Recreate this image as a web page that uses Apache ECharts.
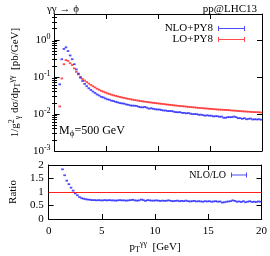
<!DOCTYPE html>
<html><head><meta charset="utf-8">
<script src="https://cdn.jsdelivr.net/npm/echarts@6/dist/echarts.min.js"></script>
<style>html,body{margin:0;padding:0;background:#fff}#c{width:270px;height:256px}</style>
</head><body><div id="c"></div>
<script>
// bin centres (GeV)
const PT = [0.1,0.3,0.5,0.7,0.9,1.1,1.3,1.5,1.7,1.9,2.1,2.3,2.5,2.7,2.9,3.1,3.3,3.5,3.7,3.9,
4.1,4.3,4.5,4.7,4.9,5.1,5.3,5.5,5.7,5.9,6.1,6.3,6.5,6.7,6.9,7.1,7.3,7.5,7.7,7.9,
8.1,8.3,8.5,8.7,8.9,9.1,9.3,9.5,9.7,9.9,10.1,10.3,10.5,10.7,10.9,11.1,11.3,11.5,11.7,11.9,
12.1,12.3,12.5,12.7,12.9,13.1,13.3,13.5,13.7,13.9,14.1,14.3,14.5,14.7,14.9,15.1,15.3,15.5,15.7,15.9,
16.1,16.3,16.5,16.7,16.9,17.1,17.3,17.5,17.7,17.9,18.1,18.3,18.5,18.7,18.9,19.1,19.3,19.5,19.7,19.9];
// LO+PY8 [pb/GeV]
const LO = [null,null,0.016,0.091,0.22,0.285,0.27,0.235,0.21,0.17,0.137,0.117,0.100,0.088,0.080,0.073,0.066,0.061,0.056,0.052,
0.048,0.045,0.042,0.040,0.038,0.036,0.0345,0.033,0.0318,0.0307,0.0297,0.0288,0.0279,0.0271,0.0263,0.0256,0.0250,0.0244,0.0238,0.0233,
0.0228,0.0223,0.0219,0.0215,0.0211,0.0207,0.0204,0.0200,0.0197,0.0194,0.0191,0.0188,0.0185,0.0182,0.0179,0.0176,0.0174,0.0171,0.0169,0.0166,
0.0164,0.0162,0.0160,0.0158,0.0156,0.0154,0.0152,0.0150,0.0148,0.0146,0.0145,0.0143,0.0141,0.0140,0.0138,0.0137,0.0135,0.0134,0.0132,0.0131,
0.0130,0.0129,0.0128,0.0128,0.0126,0.0124,0.0123,0.0122,0.0120,0.0119,0.0118,0.0117,0.0116,0.0115,0.0114,0.0113,0.0112,0.0112,0.0111,0.0110];
// NLO+PY8 [pb/GeV]
const NLO = [null,null,0.063,0.30,0.57,0.63,0.50,0.38,0.30,0.22,0.159,0.123,0.095,0.0774,0.0648,0.0562,0.0495,0.0445,0.0403,0.0369,
0.0336,0.0315,0.0290,0.0280,0.0262,0.0248,0.0242,0.0228,0.0223,0.0212,0.0205,0.0196,0.0193,0.0190,0.0181,0.0177,0.0170,0.0168,0.0167,0.0165,
0.0157,0.0152,0.0151,0.0155,0.0148,0.0139,0.0143,0.0138,0.0134,0.0132,0.0132,0.0128,0.0124,0.0124,0.0120,0.0120,0.0120,0.0115,0.0112,0.0111,
0.0112,0.0107,0.0107,0.0104,0.0106,0.0102,0.0099,0.0099,0.0099,0.0095,0.0096,0.0093,0.0090,0.0092,0.0090,0.0090,0.0086,0.0087,0.0087,0.0084,
0.0085,0.0079,0.0079,0.0082,0.0082,0.0082,0.0085,0.0082,0.0077,0.0077,0.0074,0.0077,0.0072,0.0074,0.0075,0.0071,0.0072,0.0071,0.0072,0.0070];
// NLO/LO ratio
const RATIO = [null,null,3.9,3.3,2.6,2.2,1.84,1.62,1.42,1.29,1.16,1.05,0.95,0.88,0.81,0.77,0.75,0.73,0.72,0.71,
0.70,0.70,0.69,0.70,0.69,0.69,0.70,0.69,0.70,0.69,0.69,0.68,0.69,0.70,0.69,0.69,0.68,0.69,0.70,0.71,
0.69,0.68,0.69,0.72,0.70,0.67,0.70,0.69,0.68,0.68,0.69,0.68,0.67,0.68,0.67,0.68,0.69,0.67,0.66,0.67,
0.68,0.66,0.67,0.66,0.68,0.66,0.65,0.66,0.67,0.65,0.66,0.65,0.64,0.66,0.65,0.66,0.64,0.65,0.66,0.64,
0.65,0.61,0.62,0.64,0.65,0.66,0.69,0.67,0.64,0.65,0.63,0.66,0.62,0.64,0.66,0.63,0.64,0.63,0.65,0.64];
// tick values
const X_TICKS = [0,5,10,15,20];
const LOG_MAJOR = [0.001,0.01,0.1,1];
const LOG_MINOR = [0.002,0.003,0.004,0.005,0.006,0.007,0.008,0.009,0.02,0.03,0.04,0.05,0.06,0.07,0.08,0.09,
0.2,0.3,0.4,0.5,0.6,0.7,0.8,0.9,2,3,4];
const RATIO_TICKS = [0,0.5,1,1.5,2];

const FONT = '"Liberation Serif","DejaVu Serif",serif';
const BLUE = '#1f1fff', RED = '#ff1f1f';
const pairs = (ys) => PT.map((x,i)=>[x, ys[i]]).filter(d=>d[1]!=null);
const errIcon = 'path://M0,0h1v5h-1z M0,2h27v1h-27z M26,0h1v5h-1z';
const line = {show:true, onZero:false, lineStyle:{color:'#000', width:1}};
const rich = {
  b:{fontFamily:FONT,fontSize:11,color:'#000',fontWeight:'normal'},
  sup:{fontFamily:FONT,fontSize:8,color:'#000',fontWeight:'normal',verticalAlign:'top',padding:[0,0,6,0]},
  sub:{fontFamily:FONT,fontSize:8,color:'#000',fontWeight:'normal',verticalAlign:'bottom',padding:[5,0,0,0]}
};
function xAx(grid, pos, labels, name){
  return {type:'value', gridIndex:grid, position:pos, min:0, max:20, interval:5,
    axisLine:line, splitLine:{show:false},
    axisTick:{inside:true, length:5, customValues:X_TICKS, lineStyle:{color:'#000'}},
    axisLabel:{show:labels, customValues:X_TICKS, color:'#000', fontFamily:FONT, fontSize:11, margin:7},
    name: name||'', nameLocation:'middle', nameGap:21,
    nameTextStyle:{color:'#000', fontFamily:FONT, fontSize:11, rich:rich}};
}
function logAx(pos, major, labels){
  return {type:'log', gridIndex:0, position:pos, min:0.001, max:5, logBase:10,
    axisLine: major ? line : {show:false},
    splitLine:{show:false},
    axisTick:{inside:true, length: major?5:2.5, customValues: major?LOG_MAJOR:LOG_MINOR, lineStyle:{color:'#000'}},
    axisLabel:{show:labels, customValues:LOG_MAJOR, margin:4,
      formatter:(v)=>'{b|10}{sup|'+Math.round(Math.log10(v))+'}', rich:rich},
    name: labels ? '{b|1/g}{sup|2}{sub|γ}{b| dσ/dp}{sub|T}{sup|γγ}{b|  [pb/GeV]}' : '',
    nameLocation:'middle', nameGap:25,
    nameTextStyle:{color:'#000', fontFamily:FONT, fontSize:11, rich:rich}};
}
function ratioAx(pos, labels){
  return {type:'value', gridIndex:1, position:pos, min:0, max:2, interval:0.5,
    axisLine:line, splitLine:{show:false},
    axisTick:{inside:true, length:5, customValues:RATIO_TICKS, lineStyle:{color:'#000'}},
    axisLabel:{show:labels, customValues:RATIO_TICKS, color:'#000', fontFamily:FONT, fontSize:11, margin:5},
    name: labels?'Ratio':'', nameLocation:'middle', nameGap:22,
    nameTextStyle:{color:'#000', fontFamily:FONT, fontSize:11}};
}
const chart = echarts.init(document.getElementById('c'), null, {renderer:'canvas'});
chart.setOption({
  animation:false,
  backgroundColor:'#fff',
  title:[
    {text:'γγ → ϕ', left:42, top:-1, textStyle:{fontFamily:FONT, fontSize:11, fontWeight:'normal', color:'#000'}},
    {text:'pp@LHC13', right:8, top:-1, textStyle:{fontFamily:FONT, fontSize:11, fontWeight:'normal', color:'#000'}},
    {text:'{m|M}{s|ϕ}{m|=500 GeV}', left:54, top:119,
      textStyle:{fontWeight:'normal', rich:{m:{fontFamily:FONT,fontSize:12,color:'#000',fontWeight:'normal'},
        s:{fontFamily:FONT,fontSize:9,color:'#000',fontWeight:'normal',verticalAlign:'bottom',padding:[5,0,0,0]}}}}
  ],
  legend:[
    {orient:'vertical', right:20, top:18, align:'right', itemWidth:27, itemHeight:5, itemGap:0,
     data:[{name:'NLO+PY8', icon:errIcon},{name:'LO+PY8', icon:errIcon}],
     textStyle:{fontFamily:FONT, fontSize:11, color:'#000', lineHeight:11, padding:[0,0,0,0]}, selectedMode:false},
    {orient:'vertical', right:18, top:165, align:'right', itemWidth:16, itemHeight:5,
     data:[{name:'NLO/LO', icon:'path://M0,0h1v5h-1z M0,2h16v1h-16z M15,0h1v5h-1z'}],
     textStyle:{fontFamily:FONT, fontSize:10, color:'#000'}, selectedMode:false}
  ],
  grid:[
    {left:42, top:14, width:220, height:137},
    {left:42, top:165, width:220, height:54}
  ],
  xAxis:[
    xAx(0,'bottom',false), xAx(0,'top',false),
    xAx(1,'bottom',true,'{b|p}{sub|T}{sup|γγ}{b|  [GeV]}'), xAx(1,'top',false)
  ],
  yAxis:[
    logAx('left',true,true), logAx('left',false,false),
    logAx('right',true,false), logAx('right',false,false),
    ratioAx('left',true), ratioAx('right',false)
  ],
  series:[
    {name:'LO+PY8', type:'scatter', xAxisIndex:0, yAxisIndex:0, symbol:'rect', symbolSize:[2.6,1.8],
     itemStyle:{color:RED}, data:pairs(LO), clip:true},
    {name:'NLO+PY8', type:'scatter', xAxisIndex:0, yAxisIndex:0, symbol:'rect', symbolSize:[2.6,1.8],
     itemStyle:{color:BLUE}, data:pairs(NLO), clip:true},
    {name:'NLO/LO', type:'scatter', xAxisIndex:2, yAxisIndex:4, symbol:'rect', symbolSize:[2.6,1.8],
     itemStyle:{color:BLUE}, data:pairs(RATIO), clip:true,
     markLine:{silent:true, symbol:'none', label:{show:false}, lineStyle:{color:RED, width:1, type:'solid'},
       data:[{yAxis:1}]}}
  ]
});
</script></body></html>
